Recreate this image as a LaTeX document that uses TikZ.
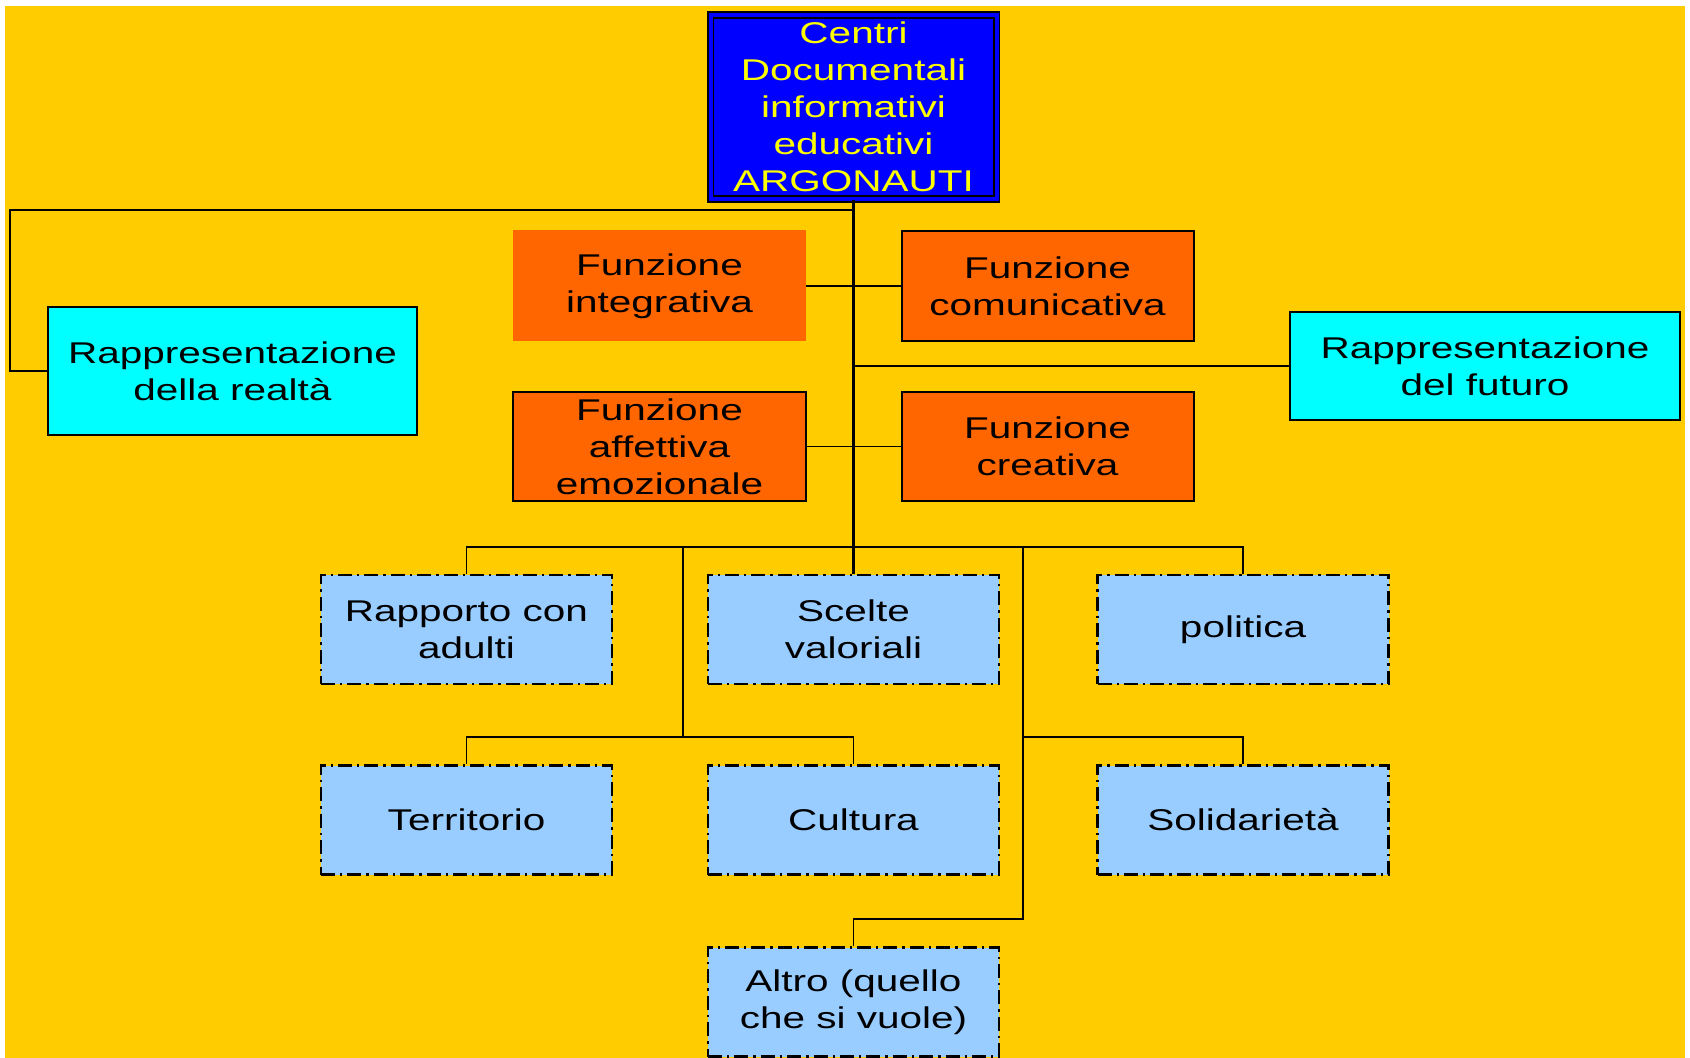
\documentclass[tikz,border=0pt]{standalone}
\usepackage{fontspec}
\setmainfont{Liberation Sans}[FakeStretch=1.35]
\definecolor{bgyel}{HTML}{FFCC00}
\definecolor{topblue}{HTML}{0000FF}
\definecolor{txtyel}{HTML}{FFFF00}
\definecolor{orng}{HTML}{FF6600}
\definecolor{cyn}{HTML}{00FFFF}
\definecolor{lblue}{HTML}{99CCFF}
\tikzset{
  basebox/.style={rectangle, inner sep=0pt, align=center, font=\fontsize{15}{18.5}\selectfont},
  topbox/.style={basebox, fill=topblue, draw=black, line width=0.9pt, double=topblue, double distance=2pt, text=txtyel, minimum width=143pt, minimum height=92pt},
  orangebox/.style={basebox, fill=orng, draw=black, line width=1pt, minimum width=146pt, minimum height=55pt},
  orangenb/.style={basebox, fill=orng, minimum width=146.5pt, minimum height=55.5pt},
  cyanbox/.style={basebox, fill=cyn, draw=black, line width=1pt},
  dashbox/.style={basebox, fill=lblue, draw=black, line width=1.4pt, dash pattern=on 7pt off 2.5pt on 1.2pt off 2.5pt, minimum width=145.5pt, minimum height=54.5pt},
  conn/.style={draw=black, line width=0.8pt},
  trunk/.style={draw=black, line width=1.2pt}
}
\begin{document}
\begin{tikzpicture}[x=0.5pt,y=-0.5pt]
\useasboundingbox (0,0) rectangle (1690,1058);
\fill[white] (0,0) rectangle (1690,1058);
\fill[bgyel] (5,6) rectangle (1685,1058);

\node[topbox] (top) at (853.5,107) {Centri\\Documentali\\informativi\\educativi\\ARGONAUTI};

\node[cyanbox, minimum width=184.5pt, minimum height=64pt] (real) at (232.5,371) {Rappresentazione\\della realtà};
\node[cyanbox, minimum width=195pt, minimum height=54pt] (fut) at (1485,366) {Rappresentazione\\del futuro};

\node[orangenb] (integ) at (659.5,286) {Funzione\\integrativa};
\node[orangebox] (comu) at (1047.5,286) {Funzione\\comunicativa};
\node[orangebox, minimum width=146.5pt, minimum height=54.5pt] (aff) at (659.5,446.5) {Funzione\\affettiva\\emozionale};
\node[orangebox, minimum height=54.5pt] (crea) at (1047.5,446.5) {Funzione\\creativa};

\node[dashbox] (rapp) at (466.5,629.5) {Rapporto con\\adulti};
\node[dashbox] (scel) at (853.5,629.5) {Scelte\\valoriali};
\node[dashbox] (pol) at (1243,629.5) {politica};

\node[dashbox] (terr) at (466.5,820) {Territorio};
\node[dashbox] (cult) at (853.5,820) {Cultura};
\node[dashbox] (sol) at (1243,820) {Solidarietà};

\node[dashbox] (altro) at (853.5,1002) {Altro (quello\\che si vuole)};

% connectors
\draw[trunk] (top.south) -- (scel.north);
\draw[conn] (top.south) -- ([yshift=-5pt]top.south) -| ([xshift=-18.5pt]real.west) -- (real.west);
\draw[conn] (integ.east) -- (comu.west);
\draw[conn] (top.south |- fut.west) -- (fut.west);
\draw[conn] (aff.east) -- (crea.west);

\coordinate (bus) at (853.5,547);
\draw[conn] (rapp.north) |- (bus) -| (pol.north);

\coordinate (b1) at (683,547);
\coordinate (b1d) at (683,737);
\draw[conn] (b1) -- (b1d);
\draw[conn] (terr.north) |- (b1d) -| (cult.north);

\coordinate (b2) at (1023,547);
\coordinate (b2m) at (1023,737);
\coordinate (b2d) at (1023,919);
\draw[conn] (b2) -- (b2d) -| (altro.north);
\draw[conn] (b2m) -| (sol.north);
\end{tikzpicture}
\end{document}
